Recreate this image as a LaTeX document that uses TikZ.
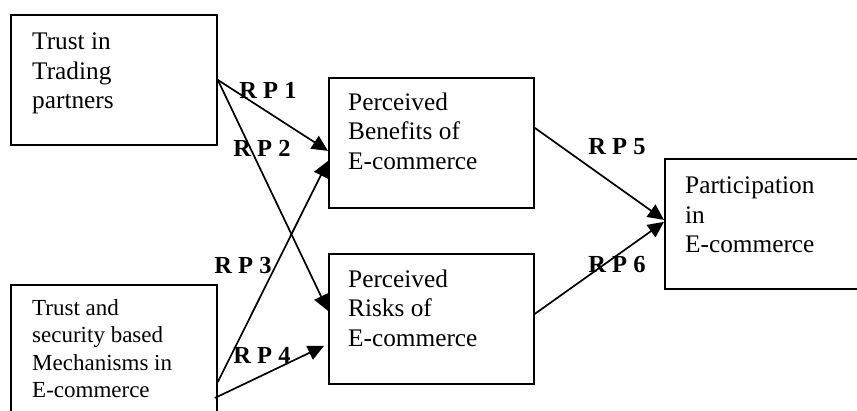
\documentclass[tikz,border=0pt]{standalone}
\usepackage{fontspec}
\setmainfont{Liberation Serif}
\usetikzlibrary{arrows.meta,calc}
\begin{document}
\begin{tikzpicture}[x=1pt,y=-1pt,
  box/.style={draw, line width=1.8pt, inner sep=0pt, anchor=north west},
  txt/.style={anchor=north west, inner sep=0pt, align=left, font=\fontsize{25.3}{29.5}\selectfont},
  txtsmall/.style={anchor=north west, inner sep=0pt, align=left, font=\fontsize{23}{27.3}\selectfont},
  rp/.style={font=\fontsize{24.5}{24.5}\selectfont\bfseries, inner sep=0pt},
  arr/.style={line width=1.7pt, -{Triangle[length=16pt,width=15pt]}}]
\fill[white] (0,0) rectangle (857,410);
\clip (0,0) rectangle (857,410);
% boxes
\node[box, minimum width=206pt, minimum height=130pt] (A) at (10,14) {};
\node[box, minimum width=206pt, minimum height=150pt] (B) at (10,284) {};
\node[box, minimum width=205pt, minimum height=130pt] (C) at (328,77) {};
\node[box, minimum width=205pt, minimum height=130pt] (D) at (328,253) {};
\node[box, minimum width=230pt, minimum height=130pt] (E) at (664,158) {};
% texts
\node[txt] (At) at (32,32.7) {Trust in\\Trading\\partners};
\node[txtsmall] (Bt) at (32,299.3) {Trust and\\security based\\Mechanisms in\\E-commerce};
\node[txt] (Ct) at (348,92.7) {Perceived\\Benefits of\\E-commerce};
\node[txt] (Dt) at (348,269.7) {Perceived\\Risks of\\E-commerce};
\node[txt] (Et) at (685,176.7) {Participation\\in\\E-commerce};
% connectors
\coordinate (b1) at ($(B.north east)+(0,98)$);
\coordinate (b2) at ($(B.north east)+(-3,114)$);
\draw[arr] (A.east) -- ($(C.west)+(0,8)$);
\draw[arr] (A.east) -- ($(D.west)+(0,-8)$);
\draw[arr] (b1) -- ($(C.west)+(0,18)$);
\draw[arr] (b2) -- ($(D.west)+(-4,27)$);
\draw[arr] ($(C.east)+(0,-15)$) -- ($(E.west)+(0,-4)$);
\draw[arr] ($(D.east)+(0,-5)$) -- ($(E.west)+(0,-2)$);
% labels
\node[rp] (L1) at (268,90) {R P 1};
\node[rp] (L2) at (262,148) {R P 2};
\node[rp] (L3) at (243,266) {R P 3};
\node[rp] (L4) at (262,355) {R P 4};
\node[rp] (L5) at (617,147) {R P 5};
\node[rp] (L6) at (617,265) {R P 6};
\end{tikzpicture}
\end{document}
